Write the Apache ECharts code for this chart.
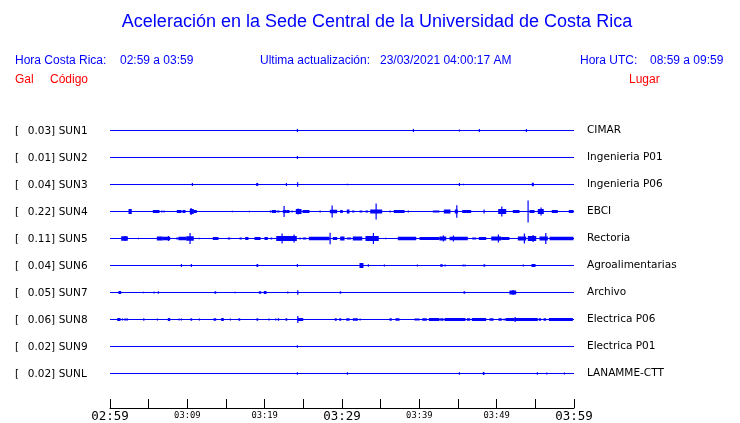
<!DOCTYPE html>
<html>
<head>
<meta charset="utf-8">
<script src="https://cdn.jsdelivr.net/npm/echarts@6/dist/echarts.min.js"></script>
<style>html,body{margin:0;padding:0;background:#fff}#c{width:740px;height:423px}</style>
</head>
<body>
<div id="c"></div>
<script>
// ---- data ----
const codes = ['SUN1','SUN2','SUN3','SUN4','SUN5','SUN6','SUN7','SUN8','SUN9','SUNL'];
const galMax = ['0.03','0.01','0.04','0.22','0.11','0.04','0.05','0.06','0.02','0.02'];
const places = ['CIMAR','Ingenieria P01','Ingenieria P06','EBCI','Rectoria','Agroalimentarias','Archivo','Electrica P06','Electrica P01','LANAMME-CTT'];
const tickLabels = ['02:59','03:09','03:19','03:29','03:39','03:49','03:59'];
const bigTicks = ['02:59','03:29','03:59'];

// events: [start minute, end minute, half amplitude (gal)], minutes after 02:59
const sun1Events = [[24.22,24.22,0.032],[39.22,39.22,0.032],[45.17,45.17,0.02],[47.75,47.75,0.032],[53.83,53.83,0.032]];
const sun2Events = [[24.22,24.22,0.03]];
const sun3Events = [[10.64,10.64,0.03],[18.97,19.23,0.03],[22.80,22.80,0.03],[24.25,24.25,0.045],[30.69,30.69,0.015],[45.17,45.17,0.03],[45.69,45.69,0.015],[54.61,54.87,0.035]];
const sun4Events = [[2.46,2.88,0.05],[5.60,6.47,0.03],[6.69,6.69,0.02],[6.98,6.98,0.02],[8.70,9.31,0.03],[9.44,9.83,0.03],[10.38,10.90,0.05],[10.47,10.47,0.07],[10.90,11.29,0.03],[15.81,15.81,0.015],[18.01,18.01,0.015],[20.73,20.91,0.02],[20.99,21.56,0.03],[21.69,21.98,0.02],[22.41,22.85,0.03],[22.50,22.50,0.11],[22.85,23.28,0.03],[23.53,23.53,0.02],[24.09,24.83,0.05],[24.31,24.31,0.06],[24.96,25.86,0.03],[27.16,27.16,0.02],[28.49,29.44,0.035],[28.71,28.71,0.12],[29.83,30.17,0.03],[30.69,31.03,0.04],[31.38,31.68,0.02],[32.33,32.68,0.02],[33.10,33.45,0.02],[33.71,35.26,0.04],[34.40,34.40,0.16],[36.21,36.21,0.02],[36.76,38.15,0.03],[38.57,38.57,0.02],[41.81,42.67,0.02],[43.23,44.09,0.04],[44.65,45.04,0.04],[44.83,44.83,0.125],[45.61,46.77,0.03],[48.36,48.36,0.04],[50.26,51.30,0.05],[50.65,50.65,0.10],[52.15,53.02,0.03],[54.05,54.05,0.22],[54.31,54.96,0.03],[55.38,56.16,0.05],[55.73,55.73,0.08],[57.19,57.97,0.03],[59.39,60,0.03]];
const sun5Events = [[1.51,2.37,0.045],[1.94,1.94,0.05],[3.66,3.66,0.015],[6.12,6.89,0.04],[6.89,7.85,0.035],[7.54,7.54,0.05],[8.63,8.92,0.02],[8.92,9.92,0.035],[9.92,10.90,0.045],[10.34,10.34,0.11],[11.51,11.51,0.015],[13.36,14.09,0.03],[15.30,15.61,0.02],[16.81,17.11,0.02],[17.55,17.97,0.03],[18.75,19.53,0.03],[20.04,20.47,0.03],[20.82,21.04,0.02],[21.56,24.22,0.05],[22.24,22.24,0.10],[23.79,23.79,0.08],[24.57,24.57,0.02],[25.00,25.44,0.02],[25.77,28.45,0.035],[28.45,28.45,0.115],[28.88,29.44,0.03],[29.83,30.39,0.04],[30.69,31.25,0.02],[31.46,32.68,0.04],[33.10,34.82,0.05],[34.05,34.05,0.11],[35.65,35.65,0.015],[37.28,39.66,0.035],[40.09,42.67,0.03],[42.67,43.54,0.04],[43.10,43.10,0.06],[43.97,46.33,0.035],[44.39,44.39,0.06],[46.90,47.42,0.02],[47.75,48.71,0.03],[49.36,50.65,0.04],[50.21,50.21,0.08],[50.65,51.72,0.03],[52.80,53.88,0.04],[53.57,53.57,0.10],[54.09,55.18,0.05],[54.70,54.70,0.07],[55.60,56.68,0.04],[56.34,56.34,0.11],[56.90,60,0.035]];
const sun6Events = [[7.54,7.54,0.01],[9.22,9.22,0.03],[10.51,10.51,0.03],[19.01,19.23,0.03],[24.22,24.22,0.03],[32.33,32.84,0.05],[33.40,33.53,0.025],[35.47,35.47,0.02],[39.74,39.74,0.02],[42.76,43.10,0.025],[43.32,43.32,0.02],[45.65,45.65,0.02],[45.90,45.90,0.02],[48.36,48.58,0.025],[53.44,53.44,0.02],[54.57,55.09,0.03]];
const sun7Events = [[0.52,0.52,0.01],[0.81,0.81,0.01],[1.16,1.51,0.03],[4.31,4.31,0.015],[5.69,5.69,0.02],[6.25,6.37,0.025],[13.58,13.80,0.025],[16.16,16.16,0.015],[19.31,19.62,0.025],[19.95,20.30,0.03],[22.98,22.98,0.02],[24.27,24.27,0.045],[29.78,29.96,0.025],[31.12,31.12,0.01],[45.78,46.00,0.025],[51.72,52.59,0.04],[52.11,52.11,0.05],[59.26,59.26,0.01]];
const sun8Events = [[1.00,1.42,0.03],[1.59,1.59,0.02],[1.94,1.94,0.025],[2.20,2.20,0.025],[4.36,4.49,0.025],[6.12,6.12,0.02],[7.54,7.85,0.03],[8.92,8.92,0.02],[9.22,9.22,0.02],[10.47,10.69,0.025],[11.55,11.55,0.02],[13.45,13.80,0.025],[14.44,14.78,0.03],[15.56,15.56,0.02],[16.25,16.25,0.01],[16.68,16.90,0.025],[18.01,18.01,0.01],[19.01,19.23,0.025],[20.56,20.56,0.02],[21.43,21.43,0.02],[21.76,21.94,0.025],[22.76,22.98,0.025],[24.27,24.27,0.07],[24.35,25.05,0.03],[27.84,27.84,0.01],[29.13,29.39,0.025],[29.70,29.96,0.025],[30.61,31.03,0.025],[31.46,32.11,0.025],[32.33,32.33,0.02],[36.21,36.50,0.025],[36.98,37.50,0.025],[38.28,38.28,0.01],[38.79,38.79,0.01],[39.44,40.09,0.02],[40.44,41.03,0.025],[41.29,42.67,0.03],[42.76,43.19,0.025],[43.32,46.03,0.03],[46.20,46.64,0.025],[46.85,48.71,0.03],[49.14,49.66,0.025],[50.30,50.73,0.025],[50.95,50.95,0.02],[51.21,52.37,0.03],[52.37,52.37,0.05],[52.37,55.38,0.03],[55.51,55.82,0.025],[56.12,56.47,0.025],[56.81,59.91,0.03]];
const sun9Events = [[24.22,24.22,0.025]];
const sunlEvents = [[8.83,8.83,0.01],[9.18,9.18,0.01],[24.22,24.22,0.025],[30.69,30.69,0.025],[45.17,45.17,0.025],[48.27,48.49,0.03],[55.25,55.25,0.025],[56.47,56.47,0.02],[58.75,58.75,0.02]];

const eventsByTrace = [sun1Events,sun2Events,sun3Events,sun4Events,sun5Events,sun6Events,sun7Events,sun8Events,sun9Events,sunlEvents];

// ---- styles ----
const BLUE = '#0000ff';
const PX_PER_GAL = 50;

const eventData = [];
eventsByTrace.forEach((evs, i) => evs.forEach(e => eventData.push([i, e[0], e[1], e[2]])));
const baseData = codes.map((c, i) => [i, 0, 60]);

const chart = echarts.init(document.getElementById('c'), null, {renderer: 'canvas'});
const headFont = '"Liberation Sans", Arial, sans-serif';

chart.setOption({
  animation: false,
  backgroundColor: '#fff',
  graphic: [
    {type: 'text', x: 377, y: 22, style: {text: 'Aceleración en la Sede Central de la Universidad de Costa Rica', fill: BLUE, font: '18px ' + headFont, textAlign: 'center', textVerticalAlign: 'middle'}},
    {type: 'text', x: 15, y: 61, style: {text: 'Hora Costa Rica:', fill: BLUE, font: '12px ' + headFont, textVerticalAlign: 'middle'}},
    {type: 'text', x: 120, y: 61, style: {text: '02:59 a 03:59', fill: BLUE, font: '12px ' + headFont, textVerticalAlign: 'middle'}},
    {type: 'text', x: 260, y: 61, style: {text: 'Ultima actualización:', fill: BLUE, font: '12px ' + headFont, textVerticalAlign: 'middle'}},
    {type: 'text', x: 380, y: 61, style: {text: '23/03/2021 04:00:17 AM', fill: BLUE, font: '12px ' + headFont, textVerticalAlign: 'middle'}},
    {type: 'text', x: 580, y: 61, style: {text: 'Hora UTC:', fill: BLUE, font: '12px ' + headFont, textVerticalAlign: 'middle'}},
    {type: 'text', x: 650, y: 61, style: {text: '08:59 a 09:59', fill: BLUE, font: '12px ' + headFont, textVerticalAlign: 'middle'}},
    {type: 'text', x: 15, y: 80, style: {text: 'Gal', fill: '#ff0000', font: '12px ' + headFont, textVerticalAlign: 'middle'}},
    {type: 'text', x: 50, y: 80, style: {text: 'Código', fill: '#ff0000', font: '12px ' + headFont, textVerticalAlign: 'middle'}},
    {type: 'text', x: 629, y: 80, style: {text: 'Lugar', fill: '#ff0000', font: '12px ' + headFont, textVerticalAlign: 'middle'}}
  ],
  grid: [
    {left: 110, width: 464, top: 117, height: 270},
    {left: 110, width: 464, top: 400, height: 9}
  ],
  xAxis: [
    {gridIndex: 0, type: 'value', min: 0, max: 60, show: false},
    {gridIndex: 1, type: 'value', min: 0, max: 60, interval: 10,
      axisLine: {show: true, lineStyle: {color: '#000', width: 1}},
      axisTick: {show: true, inside: true, length: 9, lineStyle: {color: '#000'}},
      minorTick: {show: true, splitNumber: 2, length: 9, lineStyle: {color: '#000'}},
      splitLine: {show: false}, minorSplitLine: {show: false},
      axisLabel: {
        margin: 2, showMinLabel: true, showMaxLabel: true,
        formatter: v => { const l = tickLabels[Math.round(v / 10)]; return bigTicks.includes(l) ? '{b|' + l + '}' : '{s|' + l + '}'; },
        rich: {
          b: {fontFamily: '"DejaVu Sans Mono", monospace', fontSize: 12.5, color: '#000', lineHeight: 13},
          s: {fontFamily: '"DejaVu Sans Mono", monospace', fontSize: 8.8, color: '#000', lineHeight: 12}
        }
      }
    }
  ],
  yAxis: [
    {gridIndex: 0, type: 'category', inverse: true, data: codes, position: 'left',
      axisLine: {show: false}, axisTick: {show: false}, splitLine: {show: false},
      axisLabel: {
        align: 'left', margin: 95,
        formatter: (v, i) => '{a|[}{g|' + galMax[i] + ']}{c|' + v + '}',
        rich: {
          a: {width: 12.7, fontFamily: '"DejaVu Sans", sans-serif', fontSize: 10.5, color: '#000', padding: [1, 0, 0, 0]},
          g: {width: 31, fontFamily: '"DejaVu Sans", sans-serif', fontSize: 10.5, color: '#000', padding: [1, 0, 0, 0]},
          c: {fontFamily: '"DejaVu Sans", sans-serif', fontSize: 10.5, color: '#000', padding: [1, 0, 0, 0]}
        }
      }
    },
    {gridIndex: 0, type: 'category', inverse: true, data: codes, position: 'right',
      axisLine: {show: false}, axisTick: {show: false}, splitLine: {show: false},
      axisLabel: {margin: 13, formatter: (v, i) => places[i], fontFamily: '"DejaVu Sans", sans-serif', fontSize: 10.5, color: '#000', padding: [1, 0, 0, 0]}
    },
    {gridIndex: 1, type: 'value', show: false, min: 0, max: 1}
  ],
  series: [
    {type: 'custom', xAxisIndex: 0, yAxisIndex: 0, data: baseData, encode: {x: [1, 2], y: 0}, silent: true,
      renderItem: (params, api) => {
        const i = api.value(0);
        const p1 = api.coord([api.value(1), i]);
        const p2 = api.coord([api.value(2), i]);
        return {type: 'line', shape: {x1: p1[0], y1: p1[1], x2: p2[0], y2: p2[1]}, style: {stroke: BLUE, lineWidth: 1}};
      }
    },
    {type: 'custom', xAxisIndex: 0, yAxisIndex: 0, data: eventData, encode: {x: [1, 2], y: 0}, silent: true,
      renderItem: (params, api) => {
        const i = api.value(0);
        const p1 = api.coord([api.value(1), i]);
        const p2 = api.coord([api.value(2), i]);
        const h = api.value(3) * PX_PER_GAL;
        const w = Math.max(1.2, p2[0] - p1[0]);
        return {type: 'rect', shape: {x: p1[0] - 0.5, y: p1[1] - h, width: w, height: 2 * h}, style: {fill: BLUE}};
      }
    }
  ]
});
</script>
</body>
</html>
